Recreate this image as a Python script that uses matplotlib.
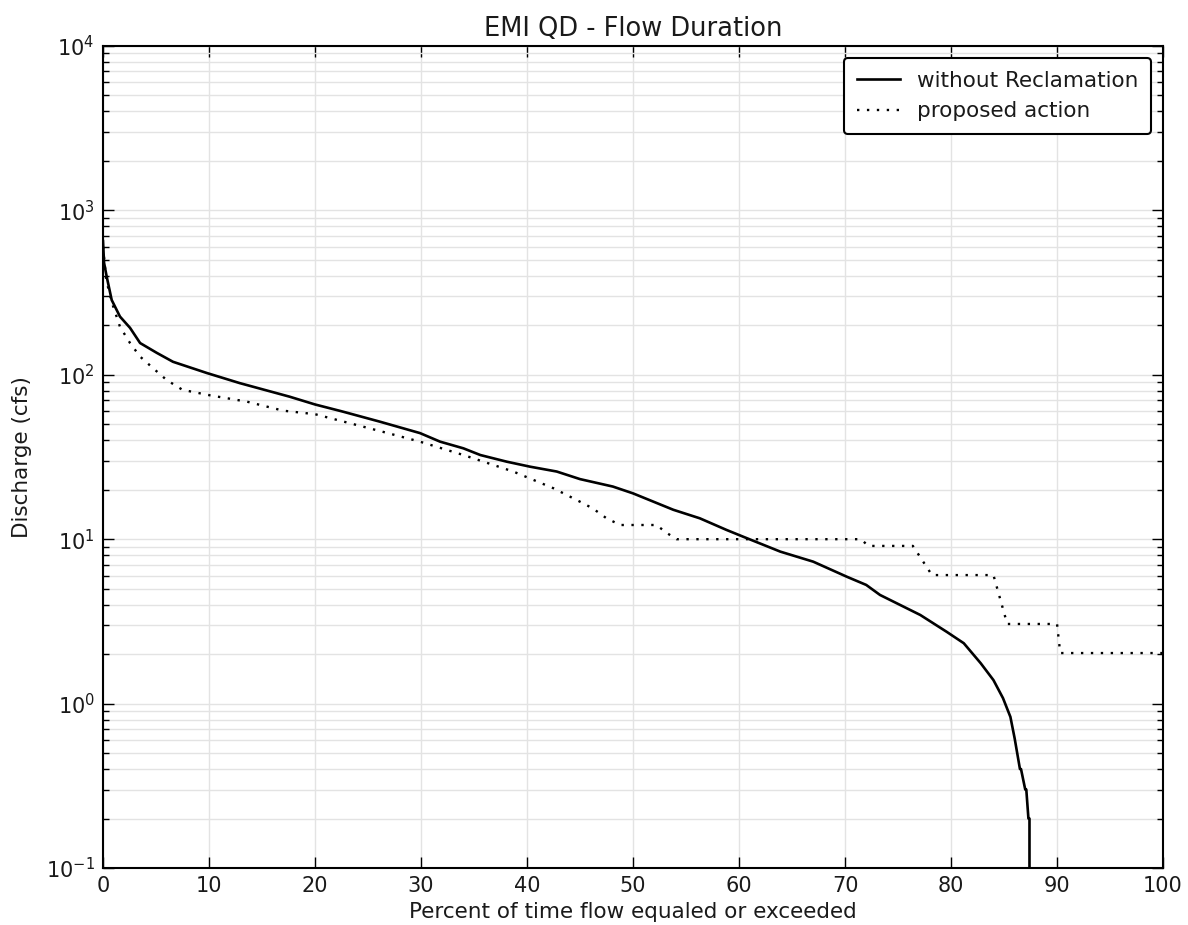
import numpy as np
import matplotlib
matplotlib.use("Agg")
import matplotlib.pyplot as plt
from matplotlib.ticker import LogLocator, FixedLocator

# Flow duration curve: percent of time exceeded vs discharge (cfs)
pct_without = [0.0, 0.1, 0.35, 0.82, 1.6, 2.55, 3.5, 5.07, 6.6, 9.8, 12.9, 17.6,
               20.0, 22.5, 26.1, 29.9, 31.8, 34.0, 35.6, 38.1, 40.3, 42.8, 45.0,
               48.1, 50.0, 53.8, 56.3, 58.8, 60.4, 63.9, 67.0, 70.2, 72.0, 73.3,
               74.9, 77.1, 79.6, 81.2, 82.8, 84.0, 84.9, 85.6, 86.0, 86.5, 86.6,
               87.0, 87.1, 87.3, 87.4, 87.4]
q_without = [650, 480, 395, 285, 226, 193, 156, 136, 120, 102.5, 89, 73.6,
             66, 60, 51.9, 44.2, 39.2, 35.7, 32.5, 29.6, 27.6, 25.8, 23.2,
             20.9, 19.0, 15.1, 13.4, 11.4, 10.35, 8.4, 7.3, 5.9, 5.27, 4.58,
             4.07, 3.46, 2.73, 2.33, 1.76, 1.39, 1.08, 0.83, 0.615, 0.4, 0.4,
             0.3, 0.3, 0.2, 0.2, 0.0]

pct_proposed = [0.0, 0.3, 0.8, 1.6, 2.55, 3.5, 4.7, 6.0, 7.5, 10.1, 13.6, 17.0,
                20.0, 26.4, 29.9, 34.0, 38.7, 42.5, 45.0, 46.2, 47.5, 48.8, 52.2,
                53.2, 54.1, 71.5, 72.2, 76.4, 78.2, 84.0, 85.3, 90.0, 90.3, 100.0]
q_proposed = [600, 380, 280, 196, 156, 129, 110, 93, 81, 75, 68.6, 60.5,
              57.6, 45, 39.2, 32.5, 25.8, 20.4, 16.9, 15.4, 13.4, 12.2, 12.2,
              10.9, 10.0, 10.0, 9.1, 9.1, 6.05, 6.05, 3.05, 3.05, 2.03, 2.03]

fig = plt.figure(figsize=(11.88, 9.25), dpi=100)
ax = fig.add_axes([0.0867, 0.0616, 0.8923, 0.8887])

ax.plot(pct_without, q_without, color="black", lw=1.9, ls="-",
        label="without Reclamation")
ax.plot(pct_proposed, q_proposed, color="black", lw=1.7,
        ls=(0, (1.0, 3.2)), label="proposed action")

ax.set_yscale("log", nonpositive="clip")
ax.set_ylim(0.1, 1e4)
ax.set_xlim(0, 100)
ax.xaxis.set_major_locator(FixedLocator(np.arange(0, 101, 10)))
ax.yaxis.set_major_locator(LogLocator(base=10, numticks=10))
ax.yaxis.set_minor_locator(LogLocator(base=10, subs=np.arange(2, 10), numticks=20))

ax.grid(True, which="major", axis="both", color="#e3e3e3", lw=1.0)
ax.grid(True, which="minor", axis="y", color="#e3e3e3", lw=1.0)
ax.set_axisbelow(True)

text_color = "#1a1a1a"
ax.tick_params(which="both", direction="in", top=True, right=True,
               labelsize=15, colors="black", labelcolor=text_color)
ax.tick_params(which="major", length=8, width=1.0, pad=6)
ax.tick_params(which="minor", length=4, width=1.0)
for s in ax.spines.values():
    s.set_linewidth(1.5)

ax.set_title("EMI QD - Flow Duration", fontsize=18.5, pad=7, color=text_color)
ax.set_xlabel("Percent of time flow equaled or exceeded", fontsize=15.5,
              color=text_color, labelpad=4)
ax.set_ylabel("Discharge (cfs)", fontsize=15.5, color=text_color, labelpad=10)

leg = ax.legend(loc="upper right", fontsize=15.5, fancybox=True,
                handlelength=2.0, borderpad=0.6, labelspacing=0.5,
                handletextpad=0.8, borderaxespad=0.55)
leg.get_frame().set_edgecolor("black")
leg.get_frame().set_linewidth(1.5)
leg.get_frame().set_alpha(1.0)
for t in leg.get_texts():
    t.set_color(text_color)

fig.savefig("out.png", dpi=100, facecolor="white")
